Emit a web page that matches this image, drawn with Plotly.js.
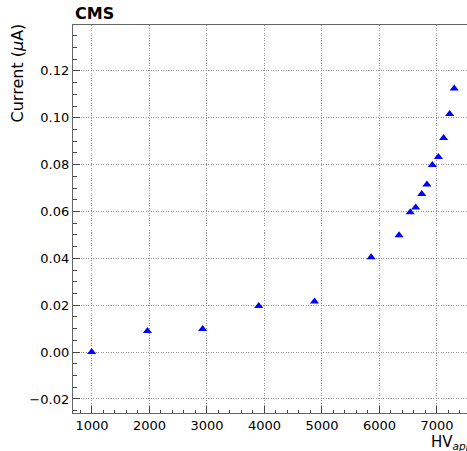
<!DOCTYPE html>
<html>
<head>
<meta charset="utf-8">
<script src="https://cdn.plot.ly/plotly-3.0.1.min.js"></script>
<style>html,body{margin:0;padding:0;background:#fff;}#chart{width:467px;height:451px;}</style>
</head>
<body>
<div id="chart"></div>
<script>
// Applied HV (V)
const hvApplied = [995, 1965, 2925, 3900, 4870, 5855, 6340, 6535, 6630, 6735, 6825, 6920, 7025, 7115, 7220, 7300];
// Current (uA)
const currentUA = [0.0000, 0.0090, 0.0098, 0.0197, 0.0216, 0.0405, 0.0499, 0.0597, 0.0617, 0.0675, 0.0715, 0.0799, 0.0833, 0.0914, 0.1016, 0.1125];
const xTickVals = [1000, 2000, 3000, 4000, 5000, 6000, 7000];
const yTickVals = [-0.02, 0.00, 0.02, 0.04, 0.06, 0.08, 0.10, 0.12];

const font = "DejaVu Sans, sans-serif";
const trace = {
  x: hvApplied, y: currentUA, type: 'scatter', mode: 'markers',
  marker: {symbol: 'triangle-up', size: 8, color: '#0000ff', line: {width: 0}},
  cliponaxis: false, showlegend: false
};
const axisCommon = {
  showline: true, linecolor: '#666', linewidth: 1.2, mirror: false,
  ticks: 'inside', ticklen: 7, tickwidth: 1, tickcolor: '#444',
  showgrid: true, gridcolor: '#777', griddash: '1px,1.5px', gridwidth: 0.8,
  zeroline: false, tickfont: {family: font, size: 13, color: '#000'}
};
const layout = {
  width: 467, height: 451,
  margin: {l: 73, r: 0, t: 25, b: 38},
  paper_bgcolor: '#fff', plot_bgcolor: '#fff',
  font: {family: font, color: '#000'},
  xaxis: Object.assign({}, axisCommon, {
    range: [670, 7522], tickmode: 'array', tickvals: xTickVals,
    ticktext: xTickVals.map(String), mirror: true,
    minor: {dtick: 200, ticks: 'inside', ticklen: 3.5, tickcolor: '#444', showgrid: false}
  }),
  yaxis: Object.assign({}, axisCommon, {
    range: [-0.026, 0.1396], tickmode: 'array', tickvals: yTickVals,
    ticktext: yTickVals.map(v => (v < 0 ? '\u2212' : '') + Math.abs(v).toFixed(2)),
    minor: {dtick: 0.005, ticks: 'inside', ticklen: 4, tickcolor: '#444', showgrid: false}
  }),
  annotations: [
    {text: '<b>CMS</b>', xref: 'paper', yref: 'paper', x: 0, y: 1, xanchor: 'left', yanchor: 'bottom',
     yshift: 0, showarrow: false, font: {family: font, size: 16, color: '#000'}},
    {text: 'Current (<i>μ</i>A)', xref: 'paper', yref: 'paper', x: -0.14, y: 1.01, xanchor: 'center', yanchor: 'top',
     textangle: -90, showarrow: false, font: {family: font, size: 16, color: '#000'}},
    {text: 'HV<sub><i>applied</i></sub> (V)', xref: 'paper', yref: 'paper', x: 0.904, y: 0, xanchor: 'left', yanchor: 'top',
     yshift: -18, showarrow: false, font: {family: font, size: 15, color: '#000'}}
  ]
};
Plotly.newPlot('chart', [trace], layout, {displayModeBar: false, staticPlot: true});
</script>
</body>
</html>
